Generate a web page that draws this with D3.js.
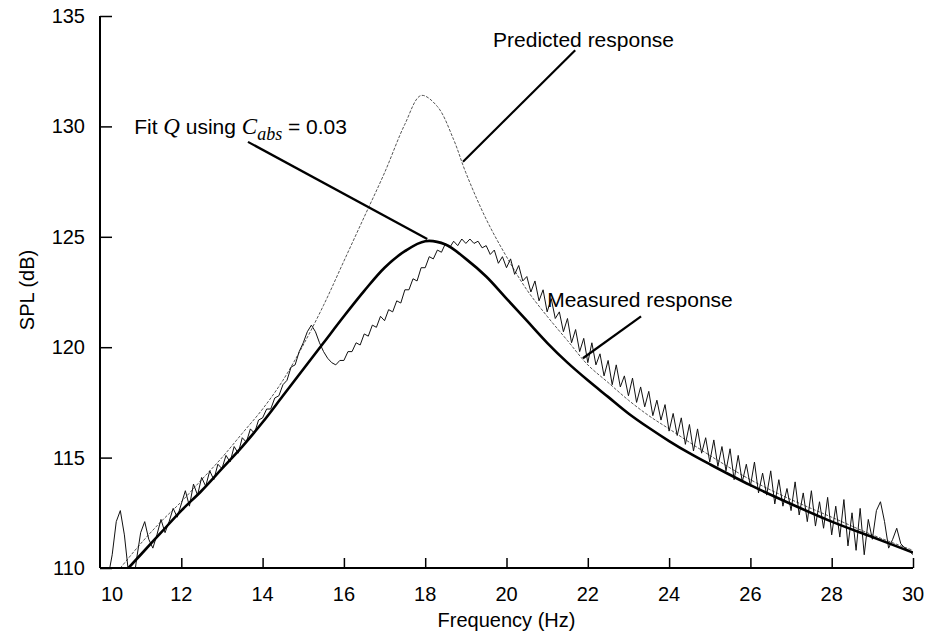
<!DOCTYPE html>
<html><head><meta charset="utf-8">
<script src="https://cdn.jsdelivr.net/npm/d3@7"></script>
<style>
html,body{margin:0;padding:0;background:#fff;}
svg{display:block;font-family:"Liberation Sans",Arial,Helvetica,sans-serif;}
</style></head>
<body><svg id="chart" width="927" height="634"></svg>
<script>
// ---- data ----
const xTicks = [10,12,14,16,18,20,22,24,26,28,30];
const yTicks = [110,115,120,125,130,135];
const xTitle = "Frequency (Hz)";
const yTitle = "SPL (dB)";

const predictedFreq = [10.0,10.5,11,11.5,12,12.5,13,13.5,14,14.5,15,15.5,16,16.5,17,17.5,17.9,18.3,18.7,19.0,19.5,20,20.5,21,21.5,22,22.5,23,23.5,24,25,26,27,28,29,30];
const predictedSPL  = [108.9,110.0,111.1,112.1,113.0,114.0,115.0,116.1,117.2,118.5,120.1,121.9,123.9,125.9,127.9,130.1,131.4,130.9,129.4,127.9,125.8,124.1,122.6,121.4,120.3,119.2,118.4,117.6,116.9,116.3,115.1,114.0,113.1,112.3,111.5,110.8];

const fitFreq = [10.5,10.7,11,11.5,12,12.5,13,13.5,14,14.5,15,15.5,16,16.5,17,17.5,18,18.5,19,19.5,20,20.5,21,21.5,22,22.5,23,23.5,24,24.5,25,26,27,28,29,30];
const fitSPL  = [109.6,110.0,110.6,111.6,112.6,113.5,114.5,115.5,116.6,117.8,119.0,120.2,121.4,122.55,123.6,124.35,124.8,124.65,124.0,123.2,122.2,121.2,120.2,119.3,118.5,117.75,117.0,116.35,115.75,115.2,114.7,113.75,112.9,112.1,111.4,110.7];

const measuredStart = 10.0, measuredStep = 0.1;
const measuredSPL = [
107.5,108.8,109.6,110.6,112.1,112.6,111.5,109.8,109.0,110.4,
111.6,112.1,111.3,110.9,111.5,112.2,111.6,112.1,112.7,112.3,
112.9,113.5,112.8,113.8,113.3,114.1,113.7,114.4,114.0,114.7,
114.5,115.1,114.8,115.5,115.2,115.9,115.7,116.3,116.1,116.7,
116.8,117.2,117.2,117.7,117.8,118.3,118.5,119.1,119.2,119.8,
120.2,120.7,121.0,120.7,120.2,119.8,119.5,119.3,119.2,119.4,
119.4,119.8,119.8,120.2,120.1,120.6,120.5,121.0,120.9,121.4,
121.2,121.7,121.6,122.1,122.0,122.6,122.6,123.1,123.0,123.6,
123.6,124.1,124.0,124.4,124.3,124.7,124.5,124.8,124.6,124.9,
124.7,124.9,124.7,124.8,124.5,124.6,124.2,124.4,123.8,124.1,
123.6,124.0,123.3,123.7,123.0,123.2,122.5,123.0,122.1,122.6,
121.6,122.2,121.3,121.6,120.7,121.3,120.2,120.8,119.8,120.4,
119.3,120.2,119.2,119.7,118.7,119.4,118.3,119.2,118.2,118.7,
117.8,118.6,117.5,118.2,117.3,118.0,116.9,117.6,116.7,117.4,
116.2,117.0,116.0,116.8,115.6,116.5,115.3,116.3,115.2,115.9,
114.8,115.8,114.6,115.5,114.4,115.4,114.0,115.1,113.9,114.7,
113.7,114.8,113.4,114.3,113.3,114.4,112.9,114.0,112.8,113.6,
112.6,113.9,112.4,113.4,112.1,113.5,111.9,113.0,111.8,113.2,
111.5,112.8,111.4,113.1,111.0,112.5,110.8,112.7,110.6,112.2,
111.3,112.6,113.0,112.1,110.9,111.3,111.8,111.1,110.9,110.8,
110.6];

// annotations: label text position and leader line in data units
const annPredicted = {text:"Predicted response", at:[19.67,133.6], from:[21.69,133.45], to:[18.93,128.4]};
const annFit = {at:[10.84,129.66], from:[13.64,129.3], to:[18.05,124.9]};
const annMeasured = {text:"Measured response", at:[21.0,121.82], from:[23.31,121.4], to:[21.88,119.5]};

// ---- drawing ----
const svg = d3.select("#chart");
const L = 100, R = 913, T = 16, B = 568;
const x = d3.scaleLinear().domain([10,30]).range([L,R]);
const y = d3.scaleLinear().domain([110,135]).range([B,T]);

svg.append("clipPath").attr("id","clip").append("rect")
  .attr("x",L).attr("y",T).attr("width",R-L).attr("height",B-T);

const plot = svg.append("g").attr("clip-path","url(#clip)");

const smooth = d3.line().x(d=>x(d[0])).y(d=>y(d[1])).curve(d3.curveCatmullRom.alpha(0.5));
const lin = d3.line().x(d=>x(d[0])).y(d=>y(d[1]));

const predicted = predictedFreq.map((f,i)=>[f,predictedSPL[i]]);
const fit = fitFreq.map((f,i)=>[f,fitSPL[i]]);
const measured = measuredSPL.map((v,i)=>[measuredStart+measuredStep*i, v]);

plot.append("path").attr("d",smooth(predicted))
  .attr("fill","none").attr("stroke","#555").attr("stroke-width",1)
  .attr("stroke-dasharray","3,1.5");
plot.append("path").attr("d",lin(measured))
  .attr("fill","none").attr("stroke","#111").attr("stroke-width",1);
plot.append("path").attr("d",smooth(fit))
  .attr("fill","none").attr("stroke","#000").attr("stroke-width",2.6);

// axes
const yAxis = d3.axisRight(y).tickValues(yTicks).tickSize(12).tickFormat("");
const gy = svg.append("g").attr("transform",`translate(${L},0)`).call(yAxis);
gy.select(".domain").attr("stroke","#000").attr("stroke-width",2).attr("d",`M0,${T}V${B}`);
gy.selectAll(".tick line").attr("stroke","#000").attr("stroke-width",1.5);
svg.append("g").selectAll("text").data(yTicks).join("text")
  .attr("x",L-15).attr("y",d=>y(d)+7).attr("text-anchor","end")
  .attr("font-size",20).text(d=>d);

const xAxis = d3.axisTop(x).tickValues(xTicks.slice(1)).tickSize(10).tickFormat("");
const gx = svg.append("g").attr("transform",`translate(0,${B})`).call(xAxis);
gx.select(".domain").attr("stroke","#000").attr("stroke-width",2).attr("d",`M${L},0H${R}`);
gx.selectAll(".tick line").attr("stroke","#000").attr("stroke-width",1.5);
svg.append("g").selectAll("text").data(xTicks).join("text")
  .attr("x",(d,i)=>x(d)+(i===0?12:0)).attr("y",B+33).attr("text-anchor","middle")
  .attr("font-size",20).text(d=>d);

svg.append("text").attr("x",(L+R)/2).attr("y",627).attr("text-anchor","middle")
  .attr("font-size",20).text(xTitle);
svg.append("text").attr("transform","translate(34,290) rotate(-90)")
  .attr("text-anchor","middle").attr("font-size",20).text(yTitle);

// annotations
function leader(a){
  svg.append("line").attr("x1",x(a.from[0])).attr("y1",y(a.from[1]))
    .attr("x2",x(a.to[0])).attr("y2",y(a.to[1]))
    .attr("stroke","#000").attr("stroke-width",2.2);
}
svg.append("text").attr("x",x(annPredicted.at[0])).attr("y",y(annPredicted.at[1]))
  .attr("font-size",21).text(annPredicted.text);
leader(annPredicted);

const serif = "'Liberation Serif','Times New Roman',serif";
const ft = svg.append("text").attr("x",x(annFit.at[0])).attr("y",y(annFit.at[1])).attr("font-size",21);
ft.append("tspan").text("Fit ");
ft.append("tspan").attr("font-family",serif).attr("font-style","italic").attr("font-size",23).text("Q");
ft.append("tspan").text(" using ");
ft.append("tspan").attr("font-family",serif).attr("font-style","italic").attr("font-size",23).text("C");
ft.append("tspan").attr("font-family",serif).attr("font-style","italic").attr("font-size",18).attr("dy",6).text("abs");
ft.append("tspan").attr("dy",-6).text(" = 0.03");
leader(annFit);

svg.append("text").attr("x",x(annMeasured.at[0])).attr("y",y(annMeasured.at[1]))
  .attr("font-size",21).text(annMeasured.text);
leader(annMeasured);
</script></body></html>
